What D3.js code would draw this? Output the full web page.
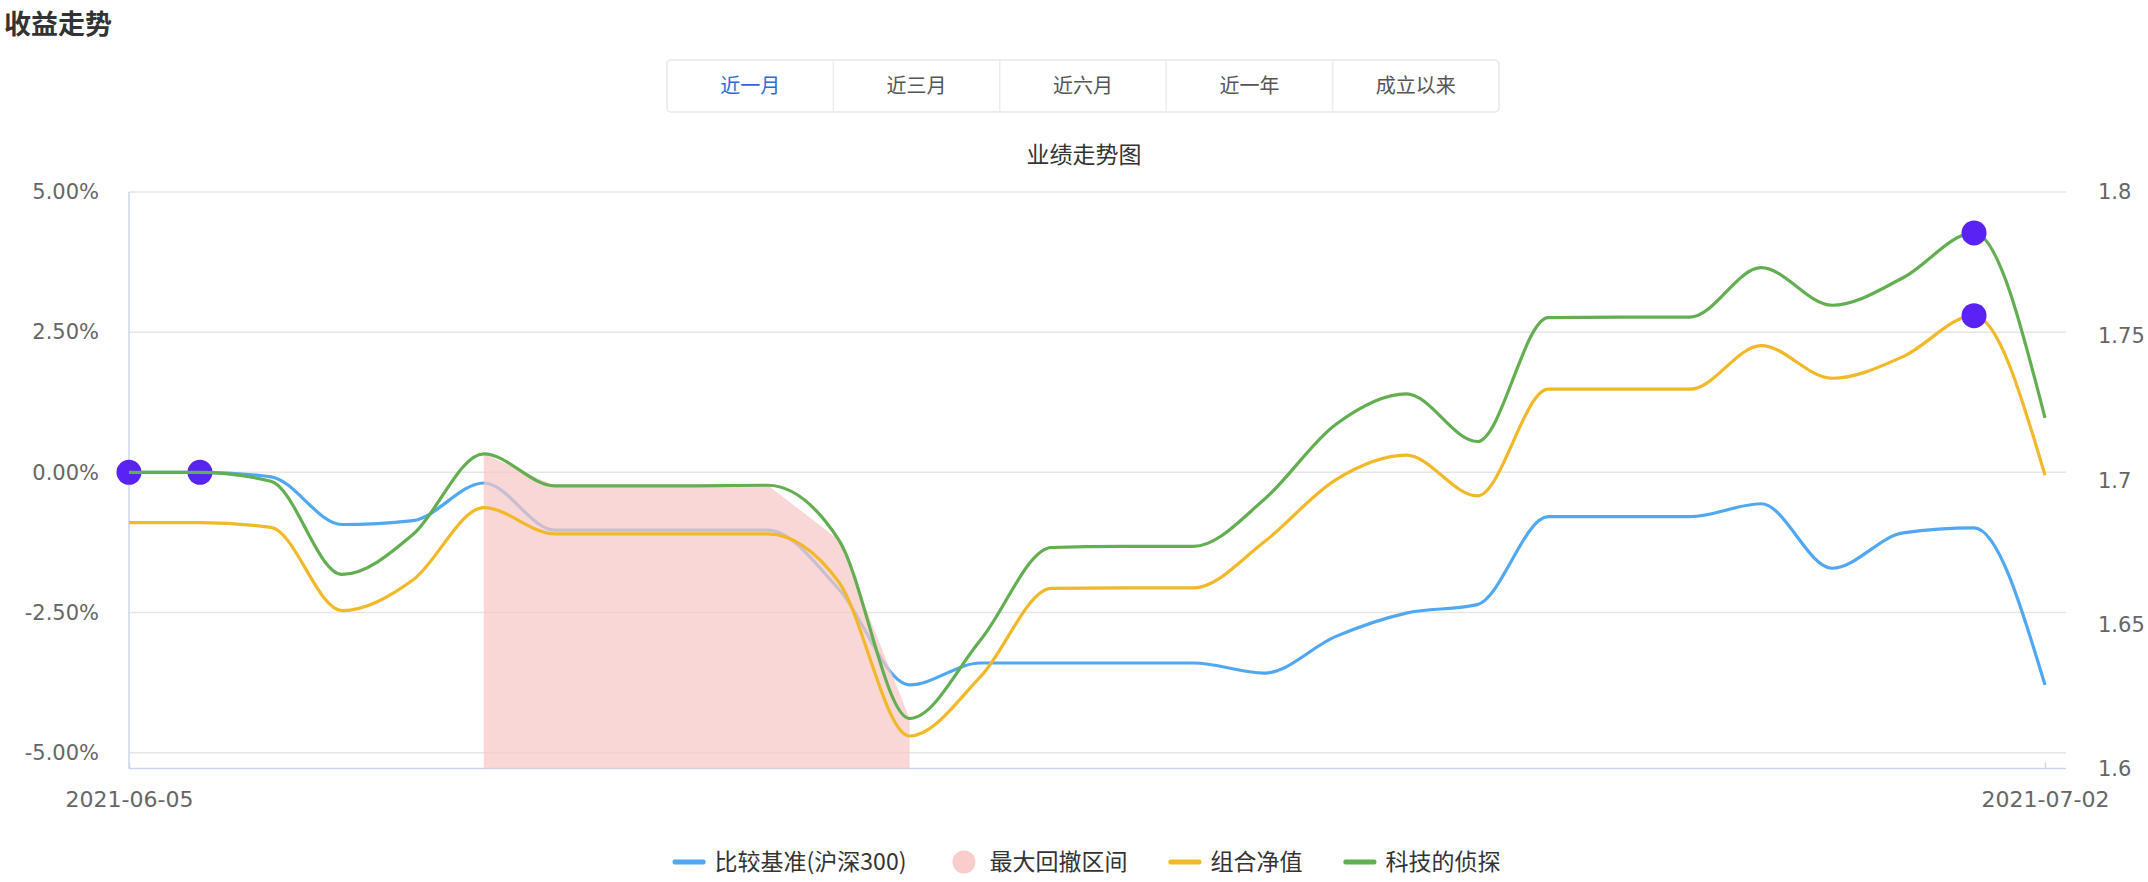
<!DOCTYPE html>
<html>
<head>
<meta charset="utf-8">
<script src="https://cdn.jsdelivr.net/npm/d3@7/dist/d3.min.js"></script>
<style>
  body { margin: 0; background: #fff; }
  svg { display: block; font-family: "Noto Sans CJK SC", "Noto Sans", sans-serif; }
</style>
</head>
<body>
<script>
// data
const dates = ["2021-06-05","2021-06-06","2021-06-07","2021-06-08","2021-06-09","2021-06-10","2021-06-11",
  "2021-06-12","2021-06-13","2021-06-14","2021-06-15","2021-06-16","2021-06-17","2021-06-18","2021-06-19",
  "2021-06-20","2021-06-21","2021-06-22","2021-06-23","2021-06-24","2021-06-25","2021-06-26","2021-06-27",
  "2021-06-28","2021-06-29","2021-06-30","2021-07-01","2021-07-02"];
// 比较基准(沪深300), %
const benchmark = [0, 0, -0.08, -0.93, -0.86, -0.19, -1.03, -1.03, -1.03, -1.03, -2.08, -3.79, -3.40, -3.40,
  -3.40, -3.40, -3.58, -2.93, -2.51, -2.36, -0.79, -0.79, -0.79, -0.56, -1.71, -1.08, -0.99, -3.79];
// 组合净值 (right axis)
const portfolioNav = [1.6853, 1.6853, 1.6837, 1.6548, 1.6654, 1.6905, 1.6814, 1.6814, 1.6814, 1.6814, 1.6648,
  1.6113, 1.6319, 1.6625, 1.6627, 1.6627, 1.6787, 1.7001, 1.7087, 1.6946, 1.7316, 1.7316, 1.7316, 1.7467,
  1.7354, 1.7429, 1.7571, 1.7018];
// 科技的侦探, %
const detective = [0, 0, -0.16, -1.82, -1.11, 0.33, -0.24, -0.24, -0.24, -0.23, -1.20, -4.39, -2.99, -1.34,
  -1.32, -1.32, -0.48, 0.85, 1.40, 0.55, 2.76, 2.77, 2.77, 3.65, 2.98, 3.47, 4.27, 0.97];

const leftTicks = [5, 2.5, 0, -2.5, -5];
const rightTicks = [1.8, 1.75, 1.7, 1.65, 1.6];
const xTickDates = ["2021-06-05", "2021-07-02"];
const drawdownRange = ["2021-06-10", "2021-06-16"];
const benchmarkMarks = ["2021-06-05", "2021-06-06"];
const peakMarks = ["2021-07-01"];
const tabs = ["近一月", "近三月", "近六月", "近一年", "成立以来"];
const legendNames = ["比较基准(沪深300)", "最大回撤区间", "组合净值", "科技的侦探"];

const W = 2148, H = 882;
const plotLeft = 129, plotRight = 2066, plotTop = 192, plotBottom = 768.6;
const blue = "#50a7f2", yellow = "#f1b92a", green = "#62ae50", purple = "#5b22f5";

const parse = d3.timeParse("%Y-%m-%d");
const fmt = d3.timeFormat("%Y-%m-%d");
const rows = dates.map((d, i) => ({date: parse(d), b: benchmark[i], n: portfolioNav[i], g: detective[i]}));

const svg = d3.select("body").append("svg").attr("width", W).attr("height", H);

const x = d3.scaleTime().domain([parse(dates[0]), parse(dates[dates.length - 1])]).range([plotLeft, 2045]);
const yL = d3.scaleLinear().domain([-5, 5]).range([752.7, plotTop]);
const yR = d3.scaleLinear().domain([1.6, 1.8]).range([plotBottom, plotTop]);

// page title + tabs
svg.append("text").attr("x", 4).attr("y", 25).attr("dy", "0.35em")
  .attr("font-size", 27).attr("font-weight", 600).attr("fill", "#333").text("收益走势");

const tabW = 166.4, tabX = 667, tabY = 60, tabH = 52;
const tabG = svg.append("g");
tabG.append("rect").attr("x", tabX).attr("y", tabY).attr("width", tabW * tabs.length).attr("height", tabH)
  .attr("rx", 4).attr("fill", "#fff").attr("stroke", "#e8e8e8").attr("stroke-width", 1.5);
tabs.forEach((t, i) => {
  if (i > 0) tabG.append("line").attr("x1", tabX + i * tabW).attr("x2", tabX + i * tabW)
    .attr("y1", tabY).attr("y2", tabY + tabH).attr("stroke", "#ececec").attr("stroke-width", 1.5);
  tabG.append("text").attr("x", tabX + (i + 0.5) * tabW).attr("y", tabY + tabH / 2).attr("dy", "0.35em")
    .attr("text-anchor", "middle").attr("font-size", 20)
    .attr("fill", i === 0 ? "#2f6bd6" : "#555").text(t);
});

svg.append("text").attr("x", 1084).attr("y", 155).attr("dy", "0.35em").attr("text-anchor", "middle")
  .attr("font-size", 23).attr("fill", "#333").text("业绩走势图");

// grid
svg.append("g").selectAll("line").data(leftTicks).join("line")
  .attr("x1", plotLeft).attr("x2", plotRight).attr("y1", d => yL(d)).attr("y2", d => yL(d))
  .attr("stroke", "#e6e6e6").attr("stroke-width", 1.5);

// axes
const gl = svg.append("g").attr("transform", `translate(${plotLeft},0)`)
  .call(d3.axisLeft(yL).tickValues(leftTicks).tickFormat(d => d.toFixed(2) + "%").tickSize(0).tickPadding(30));
const gr = svg.append("g").attr("transform", `translate(${plotRight},0)`)
  .call(d3.axisRight(yR).tickValues(rightTicks).tickFormat(d => String(d)).tickSize(0).tickPadding(32));
const gx = svg.append("g").attr("transform", `translate(0,${plotBottom})`)
  .call(d3.axisBottom(x).tickValues(xTickDates.map(parse)).tickFormat(fmt)
    .tickSizeInner(-6).tickSizeOuter(0).tickPadding(23));
[gl, gr, gx].forEach(g => {
  g.select(".domain").remove();
  g.selectAll("text").attr("fill", "#666").attr("font-size", 21).attr("font-family", "DejaVu Sans, sans-serif");
  g.selectAll(".tick line").attr("stroke", "#ccd6eb").attr("stroke-width", 1.5);
});
gx.selectAll("text").attr("font-size", 22);
svg.append("line").attr("x1", plotLeft).attr("x2", plotLeft).attr("y1", plotTop).attr("y2", plotBottom)
  .attr("stroke", "#ccd6eb").attr("stroke-width", 1.5);
svg.append("line").attr("x1", plotLeft).attr("x2", plotRight).attr("y1", plotBottom).attr("y2", plotBottom)
  .attr("stroke", "#ccd6eb").attr("stroke-width", 1.5);

// series
const lineB = d3.line().x(d => x(d.date)).y(d => yL(d.b)).curve(d3.curveMonotoneX);
const lineN = d3.line().x(d => x(d.date)).y(d => yR(d.n)).curve(d3.curveMonotoneX);
const lineG = d3.line().x(d => x(d.date)).y(d => yL(d.g)).curve(d3.curveMonotoneX);

svg.append("path").datum(rows).attr("d", lineB).attr("fill", "none")
  .attr("stroke", blue).attr("stroke-width", 3.2).attr("stroke-linejoin", "round");
svg.append("g").selectAll("circle").data(rows.filter(r => benchmarkMarks.includes(fmt(r.date))))
  .join("circle").attr("cx", d => x(d.date)).attr("cy", d => yL(d.b)).attr("r", 12.5).attr("fill", purple);

// 最大回撤区间
const ddRows = rows.filter(r => r.date >= parse(drawdownRange[0]) && r.date <= parse(drawdownRange[1]));
svg.append("path").datum(ddRows)
  .attr("d", d3.area().x(d => x(d.date)).y0(plotBottom).y1(d => yL(d.g)))
  .attr("fill", "rgb(247,199,198)").attr("fill-opacity", 0.72);

svg.append("path").datum(rows).attr("d", lineN).attr("fill", "none")
  .attr("stroke", yellow).attr("stroke-width", 3.2).attr("stroke-linejoin", "round");
svg.append("g").selectAll("circle").data(rows.filter(r => peakMarks.includes(fmt(r.date))))
  .join("circle").attr("cx", d => x(d.date)).attr("cy", d => yR(d.n)).attr("r", 12.5).attr("fill", purple);

svg.append("path").datum(rows).attr("d", lineG).attr("fill", "none")
  .attr("stroke", green).attr("stroke-width", 3.2).attr("stroke-linejoin", "round");
svg.append("g").selectAll("circle").data(rows.filter(r => peakMarks.includes(fmt(r.date))))
  .join("circle").attr("cx", d => x(d.date)).attr("cy", d => yL(d.g)).attr("r", 12.5).attr("fill", purple);

// legend
const legendColors = [blue, "#f8cdcc", yellow, green];
const lg = svg.append("g");
const iconW = 33, iconGap = 9, itemGap = 41, legendY = 862;
let cursor = 0;
legendNames.forEach((name, i) => {
  const g = lg.append("g");
  if (i === 1) {
    g.append("circle").attr("cx", iconW / 2).attr("cy", 0).attr("r", 11.5).attr("fill", legendColors[i]);
  } else {
    g.append("rect").attr("x", 0).attr("y", -2.5).attr("width", iconW).attr("height", 5).attr("rx", 2)
      .attr("fill", legendColors[i]);
  }
  const t = g.append("text").attr("x", iconW + iconGap).attr("dy", "0.35em")
    .attr("font-size", 23).attr("fill", "#333").text(name);
  g.attr("transform", `translate(${cursor},${legendY})`);
  cursor += iconW + iconGap + t.node().getComputedTextLength() + itemGap;
});
const legendWidth = cursor - itemGap;
lg.attr("transform", `translate(${1086.5 - legendWidth / 2},0)`);
</script>
</body>
</html>
